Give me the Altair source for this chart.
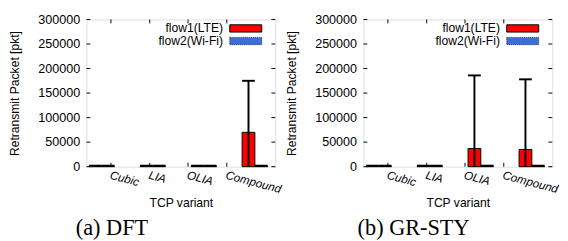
import altair as alt
import pandas as pd

variants = ["Cubic", "LIA", "OLIA", "Compound"]
flows = ["flow1(LTE)", "flow2(Wi-Fi)"]
colors = ["#ff0000", "#3a6fd8"]

# DFT
dft_flow1 = [800, 800, 800, 70000]
dft_flow1_err = [1200, 1200, 1200, 105000]
dft_flow2 = [800, 800, 800, 800]
dft_flow2_err = [1200, 1200, 1200, 1200]
# GR-STY
gr_flow1 = [800, 800, 37000, 35000]
gr_flow1_err = [1200, 1200, 149000, 143000]
gr_flow2 = [800, 800, 800, 800]
gr_flow2_err = [1200, 1200, 1200, 1200]

tick_pos = [0.18, 0.94, 1.69, 2.45]
y_ticks = [0, 50000, 100000, 150000, 200000, 250000, 300000]

BW = 0.25
W, H = 195, 152


def make_df(f1, e1, f2, e2):
    rows = []
    for i, v in enumerate(variants):
        for k, (vals, errs) in enumerate([(f1, e1), (f2, e2)]):
            c = i + (-0.125 if k == 0 else 0.125)
            rows.append(dict(variant=v, flow=flows[k], xc=c, x0=c - BW / 2, x1=c + BW / 2,
                             val=vals[i], lo=max(0, vals[i] - errs[i]), hi=vals[i] + errs[i]))
    return pd.DataFrame(rows)


label_expr = ("datum.value < 0.5 ? 'Cubic' : datum.value < 1.2 ? 'LIA' : "
              "datum.value < 2 ? 'OLIA' : 'Compound'")

xs = alt.Scale(domain=[-0.3, 3.4], nice=False, zero=False)
ys = alt.Scale(domain=[0, 300000], nice=False)
xax = alt.Axis(values=tick_pos, labelExpr=label_expr, labelAngle=15, labelAlign="left",
               labelBaseline="top", labelPadding=3, ticks=False, domain=False, grid=False,
               title="TCP variant", titleFontWeight="normal", titleFontSize=12.5,
               titlePadding=2, labelFontSize=12, labelFont="Liberation Sans",
               titleFont="Liberation Sans", labelColor="black", titleColor="black",
               labelFontStyle="italic", labelOverlap=False)
yax = alt.Axis(values=y_ticks, format="d", ticks=False, domain=False, grid=False,
               labelPadding=7, title="Retransmit Packet [pkt]", titleFontWeight="normal",
               titleFontSize=12.5, titlePadding=17, labelFontSize=13, labelFont="Liberation Sans",
               titleFont="Liberation Sans", labelColor="black", titleColor="black",
               labelOverlap=False)


def X(f):
    return alt.X(f, scale=xs, axis=xax)


def Y(f):
    return alt.Y(f, scale=ys, axis=yax)


ytick_df = pd.DataFrame({"v": y_ticks})
xtick_df = pd.DataFrame({"p": tick_pos})


def panel(df, caption, dx):
    base = alt.Chart(df)
    bars = base.mark_rect(stroke="black", strokeWidth=1).encode(
        x=X("x0:Q"), x2="x1:Q", y=Y("val:Q"), y2=alt.datum(0),
        fill=alt.Fill("flow:N", scale=alt.Scale(domain=flows, range=colors), legend=None),
    )
    err = base.mark_rule(color="black", strokeWidth=2).encode(
        x=X("xc:Q"), y=Y("lo:Q"), y2="hi:Q")
    cap = base.mark_rule(color="black", strokeWidth=2).encode(
        x=X("x0:Q"), x2="x1:Q", y=Y("hi:Q"))
    ytl = alt.Chart(ytick_df).mark_rule(color="black", strokeWidth=1).encode(
        y=Y("v:Q"), x=alt.value(0), x2=alt.value(4))
    ytr = alt.Chart(ytick_df).mark_rule(color="black", strokeWidth=1).encode(
        y=Y("v:Q"), x=alt.value(W - 4), x2=alt.value(W))
    xtb = alt.Chart(xtick_df).mark_rule(color="black", strokeWidth=1).encode(
        x=X("p:Q"), y=alt.value(H - 4), y2=alt.value(H))
    xtt = alt.Chart(xtick_df).mark_rule(color="black", strokeWidth=1).encode(
        x=X("p:Q"), y=alt.value(0), y2=alt.value(4))
    leg_txt1 = alt.Chart(pd.DataFrame({"t": [flows[0]]})).mark_text(
        align="right", baseline="middle", fontSize=12.5, font="Liberation Sans", color="black"
    ).encode(text="t:N", x=alt.value(141), y=alt.value(9))
    leg_txt2 = alt.Chart(pd.DataFrame({"t": [flows[1]]})).mark_text(
        align="right", baseline="middle", fontSize=12.5, font="Liberation Sans", color="black"
    ).encode(text="t:N", x=alt.value(141), y=alt.value(22))
    sw1 = alt.Chart(pd.DataFrame({"t": [flows[0]]})).mark_rect(
        fill=colors[0], stroke="black", strokeWidth=1
    ).encode(x=alt.value(148), x2=alt.value(181), y=alt.value(5.5), y2=alt.value(13))
    sw2 = alt.Chart(pd.DataFrame({"t": [flows[1]]})).mark_rect(
        fill=colors[1], stroke="#203060", strokeWidth=1, strokeDash=[1, 1]
    ).encode(x=alt.value(148), x2=alt.value(181), y=alt.value(18.5), y2=alt.value(26))
    return alt.layer(bars, err, cap, ytl, ytr, xtb, xtt, leg_txt1, leg_txt2, sw1, sw2).properties(
        width=W, height=H,
        title=alt.TitleParams(caption, orient="bottom", anchor="start", frame="group", dx=dx,
                              font="Liberation Serif", fontSize=23,
                              fontWeight="normal", color="black", offset=9),
    )


left = panel(make_df(dft_flow1, dft_flow1_err, dft_flow2, dft_flow2_err), "(a) DFT", -11)
right = panel(make_df(gr_flow1, gr_flow1_err, gr_flow2, gr_flow2_err), "(b) GR-STY", -6)

chart = alt.hconcat(left, right, spacing=2).configure_view(
    stroke="black", strokeWidth=1
).configure(background="white", padding={"left": 0, "top": 1, "right": 0, "bottom": 0})

chart.save("out.html", embed_options={"renderer": "svg", "actions": False})
